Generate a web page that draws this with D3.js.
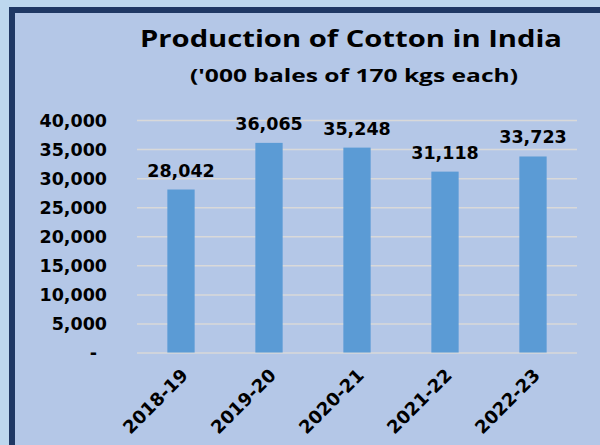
<!DOCTYPE html>
<html>
<head>
<meta charset="utf-8">
<script src="https://cdn.jsdelivr.net/npm/d3@7"></script>
<style>
  html, body { margin: 0; padding: 0; background: #bdd7ee; }
  svg { display: block; }
  .tick line { stroke: #d9d9d9; stroke-width: 1.5; }
  .domain { display: none; }
</style>
</head>
<body>
<svg width="600" height="445"></svg>
<script>
// Chart data
const years = ["2018-19", "2019-20", "2020-21", "2021-22", "2022-23"];
const production = [28042, 36065, 35248, 31118, 33723];
const yTicks = [0, 5000, 10000, 15000, 20000, 25000, 30000, 35000, 40000];

const svg = d3.select("svg");

// framed panel
svg.append("rect")
  .attr("x", 12)
  .attr("y", 10)
  .attr("width", 700)
  .attr("height", 600)
  .attr("fill", "#b4c7e7")
  .attr("stroke", "#1f3864")
  .attr("stroke-width", 6);

// title + subtitle (stretched to the width they take in the original)
svg.append("text")
  .attr("x", 140)
  .attr("y", 47)
  .attr("font-family", "'Open Sans', sans-serif")
  .attr("font-weight", "bold")
  .attr("font-size", 23.5)
  .attr("fill", "#000")
  .attr("textLength", 422)
  .attr("lengthAdjust", "spacingAndGlyphs")
  .text("Production of Cotton in India");

svg.append("text")
  .attr("x", 190)
  .attr("y", 82)
  .attr("font-family", "'Open Sans', sans-serif")
  .attr("font-weight", "bold")
  .attr("font-size", 18)
  .attr("fill", "#000")
  .attr("textLength", 328)
  .attr("lengthAdjust", "spacingAndGlyphs")
  .text("('000 bales of 170 kgs each)");

// plot area bounds
const plotLeft = 137, plotRight = 577, plotTop = 120, plotBottom = 352.5;

const xScale = d3.scaleBand()
  .domain(years)
  .range([plotLeft, plotRight])
  .paddingInner(0.69)
  .paddingOuter(0.345);

const yScale = d3.scaleLinear()
  .domain([0, 40000])
  .range([plotBottom, plotTop]);

// y axis with gridlines
const fmt = d3.format(",");
const yAxis = d3.axisLeft(yScale)
  .tickValues(yTicks)
  .tickSize(-(plotRight - plotLeft))
  .tickPadding(30)
  .tickFormat(d => d === 0 ? "-" : fmt(d));

const yG = svg.append("g")
  .attr("transform", `translate(${plotLeft}, 0)`)
  .call(yAxis);

yG.selectAll("text")
  .attr("font-family", "'DejaVu Sans', sans-serif")
  .attr("font-weight", "bold")
  .attr("font-size", 17.5)
  .attr("fill", "#000")
  .attr("dy", "0.35em");

// the zero label sits a bit further left (accounting format)
yG.selectAll(".tick text")
  .filter(d => d === 0)
  .attr("dx", -10);

// bars
svg.selectAll("rect.bar")
  .data(production)
  .enter()
  .append("rect")
  .attr("class", "bar")
  .attr("x", (d, i) => xScale(years[i]))
  .attr("y", d => yScale(d))
  .attr("width", xScale.bandwidth())
  .attr("height", d => plotBottom - yScale(d))
  .attr("fill", "#5b9bd5");

// value labels
svg.selectAll("text.val")
  .data(production)
  .enter()
  .append("text")
  .attr("class", "val")
  .attr("x", (d, i) => xScale(years[i]) + xScale.bandwidth() / 2)
  .attr("y", d => yScale(d) - 13)
  .attr("text-anchor", "middle")
  .attr("font-family", "'DejaVu Sans', sans-serif")
  .attr("font-weight", "bold")
  .attr("font-size", 17.5)
  .attr("fill", "#000")
  .text(d => fmt(d));

// x axis labels, rotated
const xAxis = d3.axisBottom(xScale).tickSize(0).tickPadding(0);
const xG = svg.append("g")
  .attr("transform", `translate(0, ${plotBottom})`)
  .call(xAxis);

xG.selectAll("text")
  .attr("font-family", "'DejaVu Sans', sans-serif")
  .attr("font-weight", "bold")
  .attr("font-size", 18)
  .attr("fill", "#000")
  .attr("text-anchor", "end")
  .attr("dy", null)
  .attr("y", null)
  .attr("transform", "translate(8, 24) rotate(-45)");
</script>
</body>
</html>
